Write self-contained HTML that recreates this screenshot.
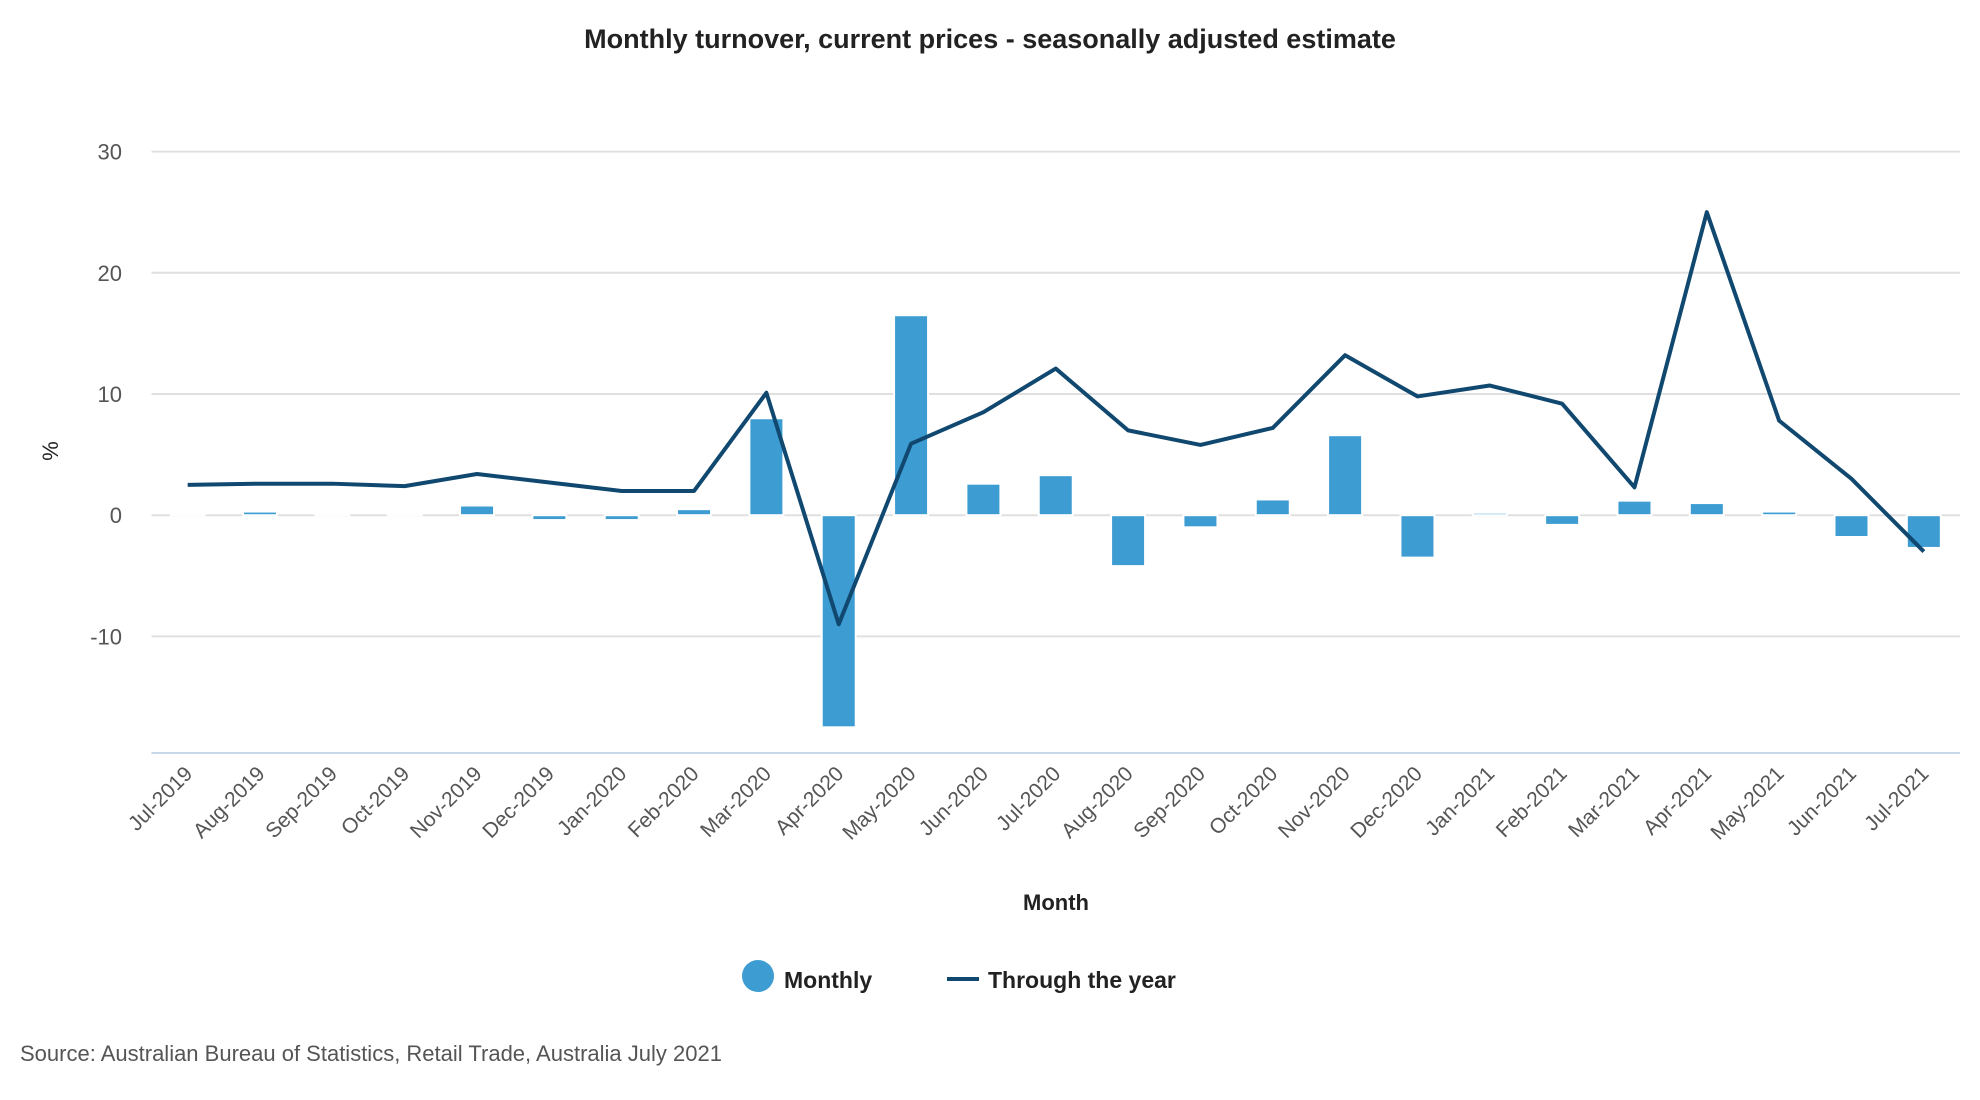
<!DOCTYPE html>
<html><head><meta charset="utf-8"><style>
body{margin:0;background:#fff;font-family:"Liberation Sans",sans-serif;}
svg{display:block}
</style></head><body>
<svg id="chart" width="1980" height="1100">
<text x="990" y="48" text-anchor="middle" font-size="27" font-weight="bold" fill="#222">Monthly turnover, current prices - seasonally adjusted estimate</text>
<g id="grid"></g><g id="bars"></g><g id="line"></g><g id="xlabels"></g>
<text transform="translate(58,451) rotate(-90)" text-anchor="middle" font-size="22" fill="#222">%</text>
<text x="1056" y="910" text-anchor="middle" font-size="22" font-weight="bold" fill="#222">Month</text>
<g><circle cx="758" cy="976" r="16" fill="#3d9cd2"/><text x="784" y="988" font-size="23" font-weight="bold" fill="#222">Monthly</text></g>
<g><line x1="947" y1="979" x2="979" y2="979" stroke="#104870" stroke-width="4"/><text x="988" y="988" font-size="23" font-weight="bold" fill="#222">Through the year</text></g>
<text x="20" y="1061" font-size="22" fill="#555">Source: Australian Bureau of Statistics, Retail Trade, Australia July 2021</text>
</svg>
<script>
const categories=["Jul-2019","Aug-2019","Sep-2019","Oct-2019","Nov-2019","Dec-2019","Jan-2020","Feb-2020","Mar-2020","Apr-2020","May-2020","Jun-2020","Jul-2020","Aug-2020","Sep-2020","Oct-2020","Nov-2020","Dec-2020","Jan-2021","Feb-2021","Mar-2021","Apr-2021","May-2021","Jun-2021","Jul-2021"];
const monthly=[0,0.3,0,0,0.8,-0.4,-0.4,0.5,8.0,-17.5,16.5,2.6,3.3,-4.2,-1.0,1.3,6.6,-3.5,0.2,-0.8,1.2,1.0,0.3,-1.8,-2.7];
const throughYear=[2.5,2.6,2.6,2.4,3.4,2.7,2.0,2.0,10.1,-9.0,5.9,8.5,12.1,7.0,5.8,7.2,13.2,9.8,10.7,9.2,2.3,25.0,7.8,3.0,-3.0];
const yTicks=[-10,0,10,20,30];
const NS="http://www.w3.org/2000/svg";
const L=151.5,R=1960,band=(R-L)/categories.length;
const y=v=>515.2-v*12.12;
const x=i=>L+band*(i+0.5);
function mk(tag,attrs,parent){const e=document.createElementNS(NS,tag);for(const k in attrs)e.setAttribute(k,attrs[k]);document.getElementById(parent).appendChild(e);return e;}
yTicks.forEach(t=>{
 const g=mk("line",{x1:L,x2:R,y1:y(t),y2:y(t),stroke:"#e0e0e0","stroke-width":2},"grid");
 
 
 const tx=mk("text",{x:122,y:y(t)+8,"text-anchor":"end","font-size":22,fill:"#555"},"grid");
 tx.textContent=t;
 
 
});
const ax=mk("line",{x1:L,x2:R,y1:753,y2:753,stroke:"#c8d6ea","stroke-width":2},"grid");


monthly.forEach((v,i)=>{
 const top=Math.min(y(v),y(0)),h=Math.abs(y(v)-y(0));
 const b=mk("rect",{x:x(i)-17,y:top,width:34,height:Math.max(h,0.01),fill:"#3d9cd2",stroke:"#fff","stroke-width":2},"bars");
 
 
});
const p=mk("polyline",{points:throughYear.map((v,i)=>x(i)+","+y(v)).join(" "),fill:"none",stroke:"#104870","stroke-width":4,"stroke-linejoin":"round"},"line");


categories.forEach((c,i)=>{
 const t=mk("text",{transform:`translate(${x(i)+6},775) rotate(-45)`,"text-anchor":"end","font-size":21,fill:"#555"},"xlabels");
 t.textContent=c;
 
 
});
</script>
</body></html>
